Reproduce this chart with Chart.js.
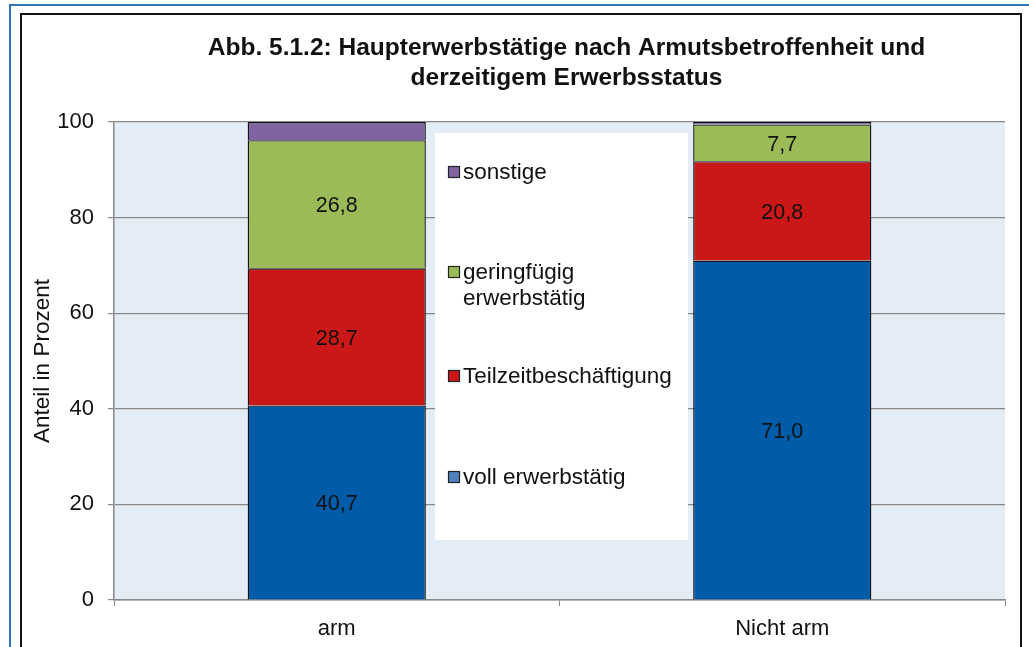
<!DOCTYPE html>
<html lang="de">
<head>
<meta charset="UTF-8">
<title>Abb. 5.1.2</title>
<script src="https://cdn.jsdelivr.net/npm/chart.js"></script>
<style>
    html, body { margin: 0; padding: 0; background: #fff; overflow: hidden; }
    .wrap { position: relative; width: 1029px; height: 647px; }
    #chart { position: absolute; left: 0; top: 0; }
    .frame-blue { position: absolute; left: 9px; top: 4px; right: -20px; bottom: -20px; border: 2px solid #2e75b6; pointer-events: none; }
    .frame-black { position: absolute; left: 20px; top: 13px; width: 998px; bottom: -20px; border: 2px solid #111; pointer-events: none; }
</style>
</head>
<body>
<div class="wrap">
    <canvas id="chart" width="1029" height="647"></canvas>
    <div class="frame-blue"></div>
    <div class="frame-black"></div>
</div>
<script>
    const categories = ['arm', 'Nicht arm'];
    const vollErwerbstaetig = [40.7, 71.0];
    const teilzeit = [28.7, 20.8];
    const geringfuegig = [26.8, 7.7];
    const sonstige = [3.8, 0.5];
    const yTicks = [0, 20, 40, 60, 80, 100];
    const titleLines = ['Abb. 5.1.2: Haupterwerbstätige nach Armutsbetroffenheit und', 'derzeitigem Erwerbsstatus'];

    const FONT = "'Liberation Sans', Arial, sans-serif";
    const fmt = v => v.toFixed(1).replace('.', ',');

    // plot background, white legend box and legend entries (drawn under the bars)
    const backdrop = {
        id: 'backdrop',
        beforeDraw(chart) {
            const { ctx, chartArea: a } = chart;
            ctx.save();
            ctx.fillStyle = '#e4ecf5';
            ctx.fillRect(a.left, a.top, a.right - a.left, a.bottom - a.top);
            ctx.restore();
        },
        beforeDatasetsDraw(chart) {
            const { ctx, chartArea: a } = chart;
            const bx = a.left + 321, by = a.top + 11;
            ctx.save();
            ctx.fillStyle = '#fff';
            ctx.fillRect(bx, by, 253, 407);
            ctx.font = '22.5px ' + FONT;
            ctx.textBaseline = 'middle';
            const items = [
                { ds: 3, lines: ['sonstige'], y: 50 },
                { ds: 2, lines: ['geringfügig', 'erwerbstätig'], y: 150 },
                { ds: 1, lines: ['Teilzeitbeschäftigung'], y: 254 },
                { ds: 0, lines: ['voll erwerbstätig'], y: 355 }
            ];
            items.forEach(it => {
                const d = chart.data.datasets[it.ds];
                const y = a.top + it.y;
                ctx.fillStyle = it.ds === 0 ? '#4f81bd' : d.backgroundColor;
                ctx.fillRect(bx + 13.5, y - 5.5, 11, 11);
                ctx.strokeStyle = '#222';
                ctx.lineWidth = 1.2;
                ctx.strokeRect(bx + 13.5, y - 5.5, 11, 11);
                ctx.fillStyle = '#111';
                it.lines.forEach((t, i) => ctx.fillText(t, bx + 28, y + 1 + i * 26));
            });
            ctx.restore();
        },
        afterDraw(chart) {
            const { ctx, chartArea: a } = chart;
            ctx.save();
            // value labels
            ctx.font = '21.5px ' + FONT;
            ctx.fillStyle = '#111';
            ctx.textAlign = 'center';
            ctx.textBaseline = 'middle';
            [0, 1, 2].forEach(di => {
                const meta = chart.getDatasetMeta(di);
                meta.data.forEach((bar, i) => {
                    const v = chart.data.datasets[di].data[i];
                    ctx.fillText(fmt(v), bar.x, (bar.y + bar.base) / 2 + 2);
                });
            });
            // title
            ctx.font = 'bold 24.5px ' + FONT;
            const cx = (a.left + a.right) / 2 + 7;
            ctx.fillText(titleLines[0], cx, 48);
            ctx.fillText(titleLines[1], cx, 78);
            ctx.restore();
        }
    };

    const common = { borderColor: '#111', borderWidth: 1.4, barPercentage: 0.4, categoryPercentage: 1.0 };

    new Chart(document.getElementById('chart'), {
        type: 'bar',
        data: {
            labels: categories,
            datasets: [
                { label: 'voll erwerbstätig', data: vollErwerbstaetig, backgroundColor: '#005ca9', ...common },
                { label: 'Teilzeitbeschäftigung', data: teilzeit, backgroundColor: '#cc1719', ...common },
                { label: 'geringfügig erwerbstätig', data: geringfuegig, backgroundColor: '#9bbb59', ...common },
                { label: 'sonstige', data: sonstige, backgroundColor: '#8064a2', ...common }
            ]
        },
        options: {
            responsive: false,
            animation: false,
            devicePixelRatio: 1,
            layout: { padding: { left: 0, top: 122, right: 24, bottom: 0 } },
            plugins: { legend: { display: false }, title: { display: false }, tooltip: { enabled: false } },
            scales: {
                x: {
                    stacked: true,
                    afterFit: s => { s.height = 47; },
                    grid: { offset: true, drawOnChartArea: false, drawTicks: true, tickLength: 6, color: '#888' },
                    border: { color: '#888', width: 1.5 },
                    ticks: { color: '#111', font: { family: FONT, size: 22 }, padding: 10 }
                },
                y: {
                    stacked: true,
                    min: 0,
                    max: 100,
                    afterFit: s => { s.width = 114; },
                    afterBuildTicks: s => { s.ticks = yTicks.map(v => ({ value: v })); },
                    grid: { color: '#888', lineWidth: 1.2, tickLength: 6 },
                    border: { color: '#888', width: 1.5 },
                    ticks: { color: '#111', font: { family: FONT, size: 22 }, padding: 14 },
                    title: { display: true, text: 'Anteil in Prozent', color: '#111', font: { family: FONT, size: 22.5 }, padding: { top: 29, bottom: 0 } }
                }
            }
        },
        plugins: [backdrop]
    });
</script>
</body>
</html>
